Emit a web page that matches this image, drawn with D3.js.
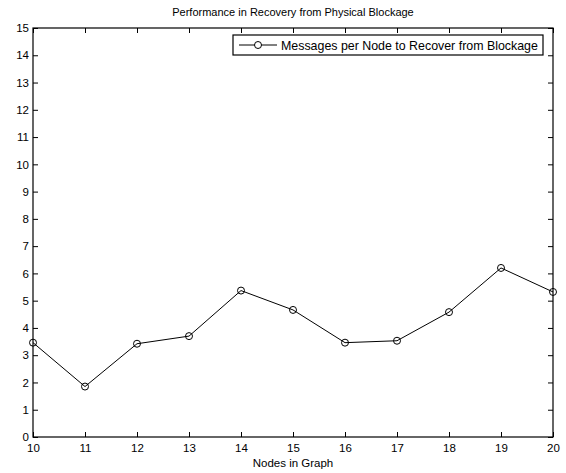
<!doctype html>
<html>
<head>
<meta charset="utf-8">
<title>Performance in Recovery from Physical Blockage</title>
<script src="https://d3js.org/d3.v7.min.js"></script>
<style>
  html, body { margin: 0; background: #fff; }
  svg { display: block; font-family: "Liberation Sans", Arial, Helvetica, sans-serif; }
</style>
</head>
<body>
<svg id="chart" width="566" height="473"></svg>
<script>
// data
var nodes = [10, 11, 12, 13, 14, 15, 16, 17, 18, 19, 20];
var messages = [3.46, 1.85, 3.42, 3.70, 5.37, 4.66, 3.46, 3.53, 4.58, 6.20, 5.32];
var xTicks = d3.range(10, 21);
var yTicks = d3.range(0, 16);
var seriesName = "Messages per Node to Recover from Blockage";

var svg = d3.select("#chart");
// plot box (note: "top" is taken by window.top, so use other names)
var axL = 33, axR = 553, axT = 28, axB = 437;

var x = d3.scaleLinear().domain([10, 20]).range([axL, axR]);
var y = d3.scaleLinear().domain([0, 15]).range([axB, axT]);

// axes, ticks pointing inward like matlab
var tk = 5;
svg.append("g").attr("transform", "translate(0," + axB + ")")
  .call(d3.axisBottom(x).tickValues(xTicks).tickSizeInner(-tk).tickSizeOuter(0).tickPadding(7));
svg.append("g").attr("transform", "translate(0," + axT + ")")
  .call(d3.axisTop(x).tickValues(xTicks).tickSizeInner(-tk).tickSizeOuter(0).tickFormat(""));
svg.append("g").attr("transform", "translate(" + axL + ",0)")
  .call(d3.axisLeft(y).tickValues(yTicks).tickSizeInner(-tk).tickSizeOuter(0).tickPadding(4));
svg.append("g").attr("transform", "translate(" + axR + ",0)")
  .call(d3.axisRight(y).tickValues(yTicks).tickSizeInner(-tk).tickSizeOuter(0).tickFormat(""));

svg.selectAll(".tick text").attr("font-size", 11.5).attr("fill", "#000")
  .attr("font-family", "'Liberation Sans', Arial, sans-serif");
svg.selectAll(".tick line").attr("stroke", "#000");
svg.selectAll(".domain").remove();

svg.append("rect")
  .attr("x", axL).attr("y", axT)
  .attr("width", axR - axL).attr("height", axB - axT)
  .attr("fill", "none").attr("stroke", "#000").attr("stroke-width", 1.2);

// series
var pts = nodes.map(function(d, i) { return [d, messages[i]]; });
var line = d3.line().x(function(d) { return x(d[0]); }).y(function(d) { return y(d[1]); });
svg.append("path").datum(pts)
  .attr("d", line).attr("fill", "none").attr("stroke", "#000").attr("stroke-width", 1);
svg.selectAll("circle.pt").data(pts).enter().append("circle")
  .attr("class", "pt")
  .attr("cx", function(d) { return x(d[0]); })
  .attr("cy", function(d) { return y(d[1]); })
  .attr("r", 3.5).attr("fill", "none").attr("stroke", "#000").attr("stroke-width", 1);

// title and label
svg.append("text").attr("x", (axL + axR) / 2).attr("y", 16)
  .attr("text-anchor", "middle").attr("font-size", 11).text("Performance in Recovery from Physical Blockage");
svg.append("text").attr("x", (axL + axR) / 2).attr("y", 467)
  .attr("text-anchor", "middle").attr("font-size", 11.5).text("Nodes in Graph");

// legend
var lg = svg.append("g");
lg.append("rect").attr("x", 233).attr("y", 35).attr("width", 310).attr("height", 20)
  .attr("fill", "#fff").attr("stroke", "#000").attr("stroke-width", 1.2);
lg.append("line").attr("x1", 239).attr("x2", 277).attr("y1", 45).attr("y2", 45)
  .attr("stroke", "#000");
lg.append("circle").attr("cx", 258).attr("cy", 45).attr("r", 3.5)
  .attr("fill", "#fff").attr("stroke", "#000");
lg.append("text").attr("x", 281).attr("y", 49.5).attr("font-size", 12.4).text(seriesName);
</script>
</body>
</html>
